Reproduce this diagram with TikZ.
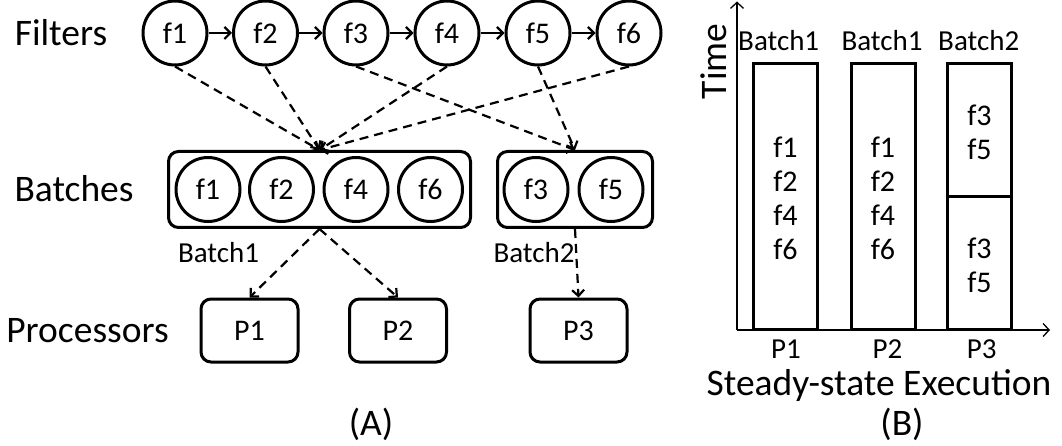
\documentclass[tikz,border=0pt]{standalone}
\usepackage{fontspec}
\setmainfont{Carlito}
\usetikzlibrary{arrows.meta}
\newcommand{\fsz}[2]{\fontsize{#1}{#2}\selectfont}
\begin{document}
\begin{tikzpicture}[x=1pt,y=-1pt,
  fc/.style={circle,draw,line width=3pt,minimum size=64pt,inner sep=0pt,font=\fsz{30}{33}},
  bbox/.style={draw,rounded corners=10pt,line width=3pt,inner sep=0pt,minimum height=76pt},
  pbox/.style={draw,rounded corners=10pt,line width=3pt,minimum width=97pt,minimum height=63pt,inner sep=0pt,font=\fsz{30}{33}},
  lbl/.style={font=\fsz{37.5}{40},inner sep=0pt},
  slbl/.style={font=\fsz{29}{32},inner sep=0pt},
  solarr/.style={line width=2.2pt,-{Straight Barb[length=6pt,width=12pt]}},
  dasharr/.style={line width=2.2pt,dash pattern=on 9pt off 6pt,-{Straight Barb[length=6pt,width=12pt]}},
  axarr/.style={line width=1.3pt,-{Straight Barb[length=6pt,width=13pt]}},
  colbox/.style={draw,line width=3pt,minimum width=64pt,minimum height=266pt,inner sep=0pt},
  coltxt/.style={font=\fsz{30}{34},align=center,inner sep=0pt}
]
\useasboundingbox (0,0) rectangle (1062,446);

% ---------- Panel A ----------
\node[lbl] (lfil) at (61,33) {Filters};
\node[lbl] (lbat) at (74,189) {Batches};
\node[lbl] (lpro) at (87.5,331) {Processors};

\node[fc] (f1) at (175,33) {f1};
\node[fc] (f2) at (265.5,33) {f2};
\node[fc] (f3) at (356,33) {f3};
\node[fc] (f4) at (447,33) {f4};
\node[fc] (f5) at (538,33) {f5};
\node[fc] (f6) at (629,33) {f6};
\draw[solarr] (f1) -- (f2);
\draw[solarr] (f2) -- (f3);
\draw[solarr] (f3) -- (f4);
\draw[solarr] (f4) -- (f5);
\draw[solarr] (f5) -- (f6);

\node[bbox,minimum width=302pt] (b1) at (319.5,189.5) {};
\node[bbox,minimum width=155pt] (b2) at (575,189.5) {};
\node[fc] (g1) at (208,189.5) {f1};
\node[fc] (g2) at (281.5,189.5) {f2};
\node[fc] (g4) at (356,189.5) {f4};
\node[fc] (g6) at (430.5,189.5) {f6};
\node[fc] (g3) at (536,189.5) {f3};
\node[fc] (g5) at (611,189.5) {f5};
\node[slbl] (lb1) at (218.5,253) {Batch1};
\node[slbl] (lb2) at (534,253) {Batch2};

\draw[dasharr] (f1.south) -- (b1.north);
\draw[dasharr] (f2.south) -- (b1.north);
\draw[dasharr] (f4.south) -- (b1.north);
\draw[dasharr] (f6.south) -- (b1.north);
\draw[dasharr] (f3.south) -- (b2.north);
\draw[dasharr] (f5.south) -- (b2.north);

\node[pbox] (p1) at (249.5,330.5) {P1};
\node[pbox] (p2) at (398,330.5) {P2};
\node[pbox] (p3) at (578.5,330.5) {P3};
\draw[dasharr] (b1.south) -- (p1.north);
\draw[dasharr] (b1.south) -- (p2.north);
\draw[dasharr] (b2.south) -- (p3.north);

\node[lbl] (capa) at (371,424) {(A)};

% ---------- Panel B ----------
\coordinate (o) at (737,330);
\coordinate (ytop) at (737,1.5);
\coordinate (xend) at (1050,330);
\draw[axarr] (o) -- (ytop);
\draw[axarr] (o) -- (xend);
\node[lbl,rotate=90] (ltime) at (714,61.5) {Time};

\node[colbox] (r1) at (785.5,196.5) {};
\node[colbox] (r2) at (883,196.5) {};
\node[colbox] (r3) at (979.5,196.5) {};
\draw[line width=3pt] (r3.west) -- (r3.east);

\node[slbl] (tb1) at (778.7,41) {Batch1};
\node[slbl] (tb2) at (882,41) {Batch1};
\node[slbl] (tb3) at (978.7,41) {Batch2};

\node[coltxt] (c1) at (785.5,198) {f1\\f2\\f4\\f6};
\node[coltxt] (c2) at (883,198) {f1\\f2\\f4\\f6};
\node[coltxt] (c3a) at (979.5,132) {f3\\f5};
\node[coltxt] (c3b) at (979.5,265) {f3\\f5};

\node[slbl] (q1) at (786,349) {P1};
\node[slbl] (q2) at (887.5,349) {P2};
\node[slbl] (q3) at (981.7,349) {P3};
\node[lbl] (lsteady) at (879,386) {Steady-state Execution};
\node[lbl] (capb) at (902,424) {(B)};
\end{tikzpicture}
\end{document}
